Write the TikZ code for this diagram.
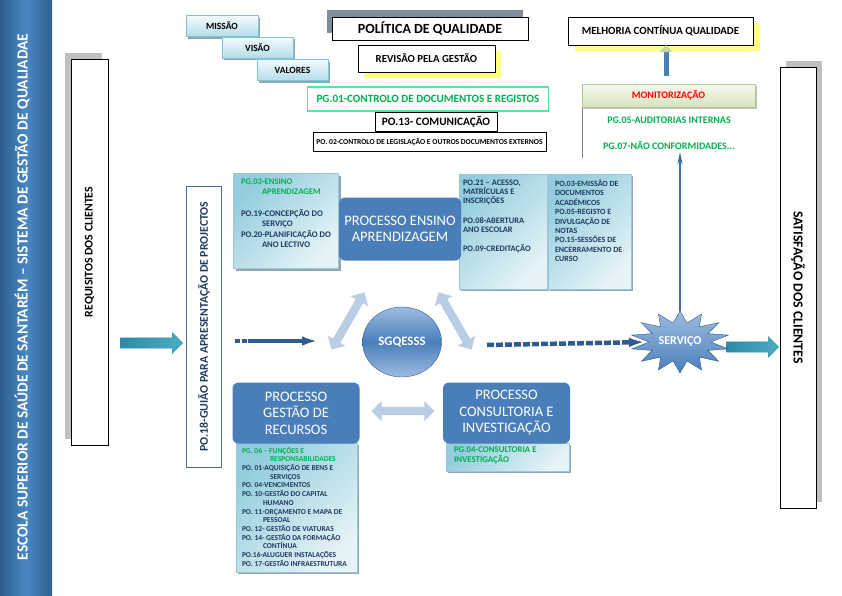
\documentclass[tikz,border=0pt]{standalone}
\usepackage{fontspec}
\setmainfont{Carlito}
\usepackage{tikz}
\usetikzlibrary{arrows.meta}
\usetikzlibrary{shapes.arrows}
\usetikzlibrary{shapes.geometric}
\usetikzlibrary{shadows}
\definecolor{bannerdark}{HTML}{2F5E8E}
\definecolor{bannerlight}{HTML}{4A88C4}
\definecolor{procblue}{HTML}{4A7EBB}
\definecolor{procdark}{HTML}{2E5C8E}
\definecolor{tealdark}{HTML}{93CDDD}
\definecolor{teallight}{HTML}{E6F3F7}
\definecolor{tealedge}{HTML}{9CC7D3}
\definecolor{boxshadow}{HTML}{8FA8B4}
\definecolor{tabtop}{HTML}{F5FBFD}
\definecolor{tabbottom}{HTML}{B3DDE8}
\definecolor{tabedge}{HTML}{7EC3D6}
\definecolor{navytext}{HTML}{1F3A5F}
\definecolor{navyline}{HTML}{4A6A8A}
\definecolor{greentext}{HTML}{00B050}
\definecolor{mint}{HTML}{4FE8A0}
\definecolor{arrowteal}{HTML}{4BACC6}
\definecolor{arrowtealdark}{HTML}{2E8AA5}
\definecolor{paleblue}{HTML}{B9CDE5}
\definecolor{softyellow}{HTML}{FFFF80}
\definecolor{greyshadow}{HTML}{BFBFBF}
\definecolor{polshadow}{HTML}{7F8C99}
\definecolor{monitop}{HTML}{F7FAF0}
\definecolor{monibottom}{HTML}{D6E3BC}
\definecolor{moniedge}{HTML}{B3C88E}
\definecolor{sgqlight}{HTML}{9DBCE0}
\definecolor{tipgreen}{HTML}{C4D79B}

\begin{document}
\begin{tikzpicture}[x=1pt, y=-1pt,
        every node/.style={inner sep=0pt, outer sep=0pt},
        bf/.style={font=\bfseries\fontsize{#1}{#1}\selectfont},
        tab/.style={draw=tabedge, top color=tabtop, bottom color=tabbottom,
                    minimum width=71, minimum height=21, bf=9.5,
                    drop shadow={shadow xshift=2pt, shadow yshift=-2pt, fill=boxshadow, opacity=1}},
        framed/.style={draw, line width=1pt, fill=white},
        lightbox/.style={draw=tealedge, top color=tealdark, bottom color=teallight, shading angle=45,
                    drop shadow={shadow xshift=2pt, shadow yshift=-2pt, fill=boxshadow, opacity=1}},
        procbox/.style={fill=procblue, rounded corners=6pt, text=white, align=center,
                    minimum width=127, minimum height=61,
                    font=\fontsize{14.5}{16.5}\selectfont},
        listtext/.style 2 args={anchor=north west, align=left, text=navytext,
                    font=\bfseries\fontsize{#1}{#2}\selectfont},
        tealarrow/.style={single arrow, single arrow head extend=5pt, inner xsep=0pt, inner ysep=5pt,
                    draw=arrowtealdark, left color=arrowtealdark, right color=arrowteal},
        twoway/.style={double arrow, double arrow head extend=6pt, inner xsep=0pt, inner ysep=4pt, fill=paleblue},
        flowline/.style={line width=4.5pt, draw=procdark, -{Latex[length=20pt,width=9pt]}},
        greenline/.style={bf=10, text=greentext}
                            ]
        \useasboundingbox (0,0) rectangle (842,595);
        % banner
        \fill[left color=bannerdark, right color=bannerdark, middle color=bannerlight] (0,0) rectangle (52,595);
        \node[bf=15.4, text=white, rotate=90] (banner) at (22,297)
            {ESCOLA SUPERIOR DE SAÚDE DE SANTARÉM – SISTEMA DE GESTÃO DE QUALIADAE};
        % clients
        \node[framed, minimum width=37, minimum height=386,
              drop shadow={shadow xshift=-6pt, shadow yshift=6pt, fill=greyshadow, opacity=1}] (req) at (89.5,252) {};
        \node[bf=11.8, rotate=90] (reqtxt) at (req) {REQUISITOS DOS CLIENTES};
        \node[framed, minimum width=36, minimum height=441,
              drop shadow={shadow xshift=6pt, shadow yshift=6pt, fill=greyshadow, opacity=1}] (sat) at (798,287.5) {};
        \node[bf=13.8, rotate=-90] (sattxt) at (sat) {SATISFAÇÃO DOS CLIENTES};
        \node[tealarrow, minimum height=62] (inarrow) at (149,343) {};
        \node[tealarrow, minimum height=52] (outarrow) at (750,347) {};
        \node[draw=navyline, line width=.8pt, minimum width=35, minimum height=281] (po18) at (204,326.5) {};
        \node[bf=11.8, rotate=90, text=navytext] (po18txt) at (po18) {PO.18-GUIÃO PARA APRESENTAÇÃO DE PROJECTOS};
        % top
        \node[tab, minimum width=72] (missao) at (222,26) {MISSÃO};
        \node[tab] (visao) at (257.5,47.5) {VISÃO};
        \node[tab] (valores) at (292.5,70) {VALORES};
        \node[framed, minimum width=196, minimum height=23, bf=14,
              drop shadow={shadow xshift=-5pt, shadow yshift=7pt, fill=polshadow, opacity=1}] (politica) at (430,28.5) {POLÍTICA DE QUALIDADE};
        \node[framed, minimum width=137, minimum height=27, bf=10.8,
              drop shadow={shadow xshift=6pt, shadow yshift=-6pt, fill=softyellow, opacity=1}] (revisao) at (426.5,58.5) {REVISÃO PELA GESTÃO};
        \node[framed, minimum width=185, minimum height=28, bf=10.9,
              drop shadow={shadow xshift=7pt, shadow yshift=-6pt, fill=softyellow, opacity=1}] (melhoria) at (660.5,31) {MELHORIA CONTÍNUA QUALIDADE};
        \node[draw=mint, line width=1.2pt, fill=white, minimum width=241, minimum height=24, bf=11.1, text=greentext] (pg01) at (428,99) {PG.01-CONTROLO DE DOCUMENTOS E REGISTOS};
        \node[framed, minimum width=122, minimum height=19, bf=11.3] (po13) at (436,121.5) {PO.13- COMUNICAÇÃO};
        \node[framed, line width=.8pt, minimum width=233, minimum height=19, bf=7.6] (po02) at (429.5,142) {PO. 02-CONTROLO DE LEGISLAÇÃO E OUTROS DOCUMENTOS EXTERNOS};
        % monitoring
        \node[draw=moniedge, top color=monitop, bottom color=monibottom, minimum width=173, minimum height=23,
              bf=10, text=red, drop shadow={shadow xshift=2pt, shadow yshift=-2pt, fill=greyshadow, opacity=1}] (moni) at (668.5,95.5) {MONITORIZAÇÃO};
        \coordinate (monibase) at (582,158);
        \draw[gray] (moni.south west) -- (monibase);
        \node[greenline] (pg05) at (669,120) {PG.05-AUDITORIAS INTERNAS};
        \node[greenline] (pg07) at (669,145) {PG.07-NÃO CONFORMIDADES...};
        \coordinate (melfoot) at (666,76);
        \draw[line width=5pt, procblue, -{Triangle[length=7pt,width=12pt,color=tipgreen]}] (melfoot) -- (melfoot |- melhoria.south);
        % ensino aprendizagem
        \node[lightbox, minimum width=105, minimum height=95] (pg03box) at (286,221) {};
        \node[listtext={8.6}{10.5}] (pg03txt) at (241,178.5)
            {\textcolor{greentext}{PG.03-ENSINO}\\\hspace*{21pt}\textcolor{greentext}{APRENDIZAGEM}\\[11pt]
             PO.19-CONCEPÇÃO DO\\\hspace*{21pt}SERVIÇO\\PO.20-PLANIFICAÇÃO DO\\\hspace*{21pt}ANO LECTIVO};
        \node[lightbox, minimum width=88, minimum height=115] (ens1box) at (503,231.5) {};
        \node[lightbox, minimum width=83, minimum height=115] (ens2box) at (589.5,231.5) {};
        \node[listtext={8.4}{9}] (ens1txt) at (463,180)
            {PO.21 – ACESSO,\\MATRÍCULAS E\\INSCRIÇÕES\\[11pt]PO.08-ABERTURA\\ANO ESCOLAR\\[10pt]PO.09-CREDITAÇÃO};
        \node[listtext={8}{9.4}] (ens2txt) at (555,180)
            {PO.03-EMISSÃO DE\\DOCUMENTOS\\ACADÉMICOS\\PO.05-REGISTO E\\DIVULGAÇÃO DE\\NOTAS\\PO.15-SESSÕES DE\\ENCERRAMENTO DE\\CURSO};
        \node[procbox, minimum width=122, minimum height=63] (ens) at (400,229) {PROCESSO ENSINO\\APRENDIZAGEM};
        % centre
        \node[ellipse, minimum width=79, minimum height=70, draw=procdark, top color=sgqlight, bottom color=sgqlight,
              middle color=procblue, text=white, bf=12.8] (sgq) at (402,342) {SGQESSS};
        \node[twoway, minimum height=66, rotate=60] (dal) at (348,321) {};
        \node[twoway, minimum height=66, rotate=-60] (dar) at (455,321) {};
        \node[twoway, minimum height=63] (dah) at (403,411) {};
        % service
        \node[star, star points=14, star point ratio=1.6, minimum size=62, xscale=1.6,
              draw=procdark, top color=sgqlight, bottom color=procblue] (serv) at (680,342) {};
        \node[bf=12, text=white] (servtxt) at (serv) {SERVIÇO};
        \coordinate (dl0) at (235,341);
        \coordinate (dl1) at (322,341);
        \draw[flowline, dash pattern=on 5pt off 1.5pt on 5pt off 1.5pt on 100pt off 1pt] (dl0) -- (dl1);
        \coordinate (dr0) at (487,345);
        \draw[flowline, dash pattern=on 7pt off 2pt] (dr0) -- (serv.west);
        \coordinate (vtop) at (680,152);
        \draw[line width=2.5pt, procblue!85!black, -{Stealth[length=12pt,width=5pt]}] (serv.north) -- (vtop);
        % gestao de recursos
        \node[lightbox, minimum width=121, minimum height=129] (gesbox) at (296.5,507.5) {};
        \node[procbox] (ges) at (296,413) {PROCESSO\\GESTÃO DE\\RECURSOS};
        \node[listtext={7.5}{8.7}] (gestxt) at (242,447)
            {\textcolor{greentext}{PG. 06 – FUNÇÕES E}\\\hspace*{28pt}\textcolor{greentext}{RESPONSABILIDADES}\\
             PO. 01-AQUISIÇÃO DE BENS E\\\hspace*{28pt}SERVIÇOS\\PO. 04-VENCIMENTOS\\
             PO. 10-GESTÃO DO CAPITAL\\\hspace*{21pt}HUMANO\\PO. 11-ORÇAMENTO E MAPA DE\\\hspace*{21pt}PESSOAL\\
             PO. 12- GESTÃO DE VIATURAS\\PO. 14- GESTÃO DA FORMAÇÃO\\\hspace*{21pt}CONTÍNUA\\
             PO.16-ALUGUER INSTALAÇÕES\\PO. 17-GESTÃO INFRAESTRUTURA};
        % consultoria
        \node[lightbox, minimum width=123, minimum height=28] (conbox) at (507.5,457) {};
        \node[procbox] (con) at (506.5,413) {PROCESSO\\CONSULTORIA E\\INVESTIGAÇÃO};
        \node[listtext={8.8}{10}, text=greentext] (contxt) at (454,447) {PG.04-CONSULTORIA E\\INVESTIGAÇÃO};
\end{tikzpicture}
\end{document}
